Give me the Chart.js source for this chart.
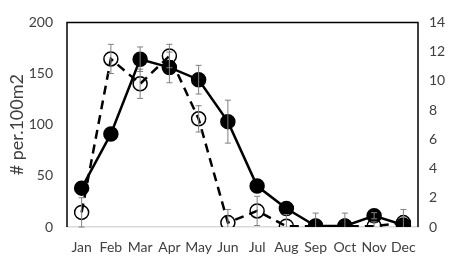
<!DOCTYPE html>
<html>
<head>
<meta charset="utf-8">
<script src="https://cdn.jsdelivr.net/npm/chart.js@4"></script>
<style>
  html, body { margin: 0; padding: 0; background: #fff; }
  #wrap { width: 459px; height: 259px; }
</style>
</head>
<body>
<div id="wrap"><canvas id="myChart" width="459" height="259"></canvas></div>
<script>
const months = ['Jan', 'Feb', 'Mar', 'Apr', 'May', 'Jun', 'Jul', 'Aug', 'Sep', 'Oct', 'Nov', 'Dec'];

// filled circles, left axis
const solidValues = [38, 91, 164, 156, 144, 103, 40, 18, 1, 1, 11, 2];
const solidErrors = [0, 0, 12, 15, 14, 21, 0, 0, 0, 0, 3, 0];

// open circles, right axis
const openValues = [1.0, 11.5, 9.8, 11.7, 7.4, 0.3, 1.1, 0.05, 0.05, 0.05, 0.05, 0.3];
const openErrors = [1.0, 1.0, 1.0, 0.8, 0.9, 0.9, 1.0, 0.8, 0.9, 0.9, 0.3, 0.9];

const leftTicks = [0, 50, 100, 150, 200];
const rightTicks = [0, 2, 4, 6, 8, 10, 12, 14];

const ctx = document.getElementById('myChart').getContext('2d');

const errorBars = {
  id: 'errorBars',
  afterDatasetsDraw(chart) {
    const c = chart.ctx;
    const x = chart.scales.x;
    c.save();
    c.strokeStyle = '#808080';
    c.lineWidth = 1;
    const draw = (vals, errs, scale) => {
      vals.forEach((v, i) => {
        if (!errs[i]) return;
        const px = x.getPixelForValue(i);
        const top = scale.getPixelForValue(v + errs[i]);
        const bot = Math.min(scale.getPixelForValue(Math.max(v - errs[i], scale.min)), scale.bottom);
        c.beginPath();
        c.moveTo(px, top); c.lineTo(px, bot);
        c.moveTo(px - 3, top); c.lineTo(px + 3, top);
        if (v - errs[i] >= 0) { c.moveTo(px - 3, bot); c.lineTo(px + 3, bot); }
        c.stroke();
      });
    };
    draw(openValues, openErrors, chart.scales.y2);
    draw(solidValues, solidErrors, chart.scales.y);
    c.restore();
  },
  afterDraw(chart) {
    const a = chart.chartArea;
    const c = chart.ctx;
    c.save();
    c.strokeStyle = '#000';
    c.lineWidth = 1.5;
    c.beginPath();
    c.moveTo(a.left, a.bottom);
    c.lineTo(a.left, a.top);
    c.lineTo(a.right, a.top);
    c.lineTo(a.right, a.bottom);
    c.stroke();
    c.restore();
  }
};

const data = {
  labels: months,
  datasets: [{
    label: 'open',
    data: openValues,
    yAxisID: 'y2',
    borderColor: '#000',
    borderWidth: 2.5,
    borderDash: [9, 6],
    pointStyle: 'circle',
    pointRadius: 7,
    pointBackgroundColor: 'rgba(0,0,0,0)',
    pointBorderColor: '#000',
    pointBorderWidth: 1.5,
    tension: 0,
    fill: false,
    order: 2
  }, {
    label: 'solid',
    data: solidValues,
    yAxisID: 'y',
    borderColor: '#000',
    borderWidth: 2.5,
    pointRadius: 6.5,
    pointBackgroundColor: '#000',
    pointBorderColor: '#000',
    tension: 0,
    fill: false,
    order: 1
  }]
};

const config = {
  type: 'line',
  data: data,
  plugins: [errorBars],
  options: {
    responsive: false,
    animation: false,
    layout: { padding: { top: 10, left: 0, right: 0, bottom: 0 } },
    scales: {
      x: {
        offset: true,
        grid: { display: false, drawTicks: false },
        border: { display: true, color: '#d9d9d9', width: 1.5 },
        ticks: {
          color: '#404040',
          padding: 12,
          maxRotation: 0,
          autoSkip: false,
          font: { family: 'Lato', size: 14 }
        },
        afterFit(s) { s.height = 32; }
      },
      y: {
        position: 'left',
        min: 0,
        max: 200,
        afterBuildTicks(s) { s.ticks = leftTicks.map(v => ({ value: v })); },
        grid: { display: false, drawTicks: false },
        border: { display: false },
        ticks: {
          color: '#404040',
          padding: 14,
          font: { family: 'Lato', size: 14 }
        },
        title: {
          display: true,
          text: '# per.100m2',
          color: '#404040',
          padding: { top: 6, bottom: 2 },
          font: { family: 'Lato', size: 18 }
        },
        afterFit(s) { s.width = 67; }
      },
      y2: {
        position: 'right',
        min: 0,
        max: 14,
        afterBuildTicks(s) { s.ticks = rightTicks.map(v => ({ value: v })); },
        grid: { display: false, drawTicks: false },
        border: { display: false },
        ticks: {
          color: '#404040',
          padding: 11,
          font: { family: 'Lato', size: 14 }
        },
        afterFit(s) { s.width = 41; }
      }
    },
    plugins: {
      legend: { display: false },
      tooltip: { enabled: false }
    }
  }
};

const myChart = new Chart(ctx, config);
</script>
</body>
</html>
